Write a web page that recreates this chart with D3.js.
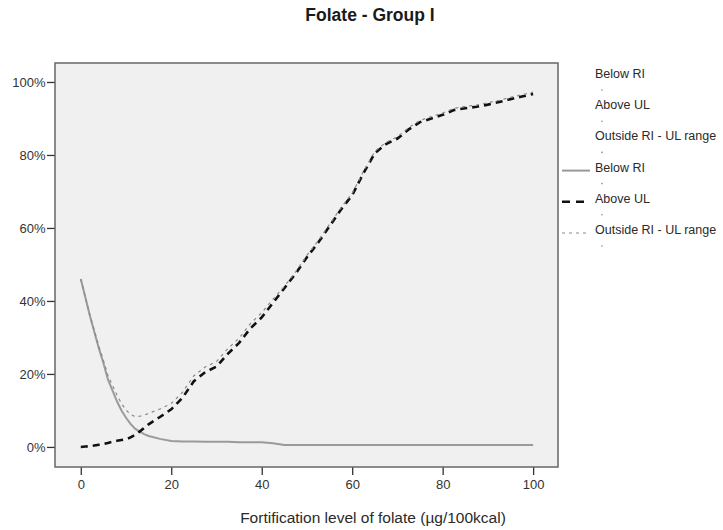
<!DOCTYPE html>
<html>
<head>
<meta charset="utf-8">
<script src="https://cdn.jsdelivr.net/npm/d3@7"></script>
<style>
  body { margin: 0; background: #fff; }
  svg { font-family: "Liberation Sans", Arial, sans-serif; }
</style>
</head>
<body>
<svg width="723" height="530"></svg>
<script>
// fortification level (µg/100kcal)
const levels = [0, 1, 2, 3, 4, 5, 6, 7, 8, 9, 10, 11, 12, 13, 14, 15, 17.5, 20, 22.5, 25,
  27.5, 30, 32.5, 35, 37.5, 40, 42.5, 45, 47.5, 50, 52.5, 55, 57.5, 60, 62.5, 65, 67.5,
  70, 72.5, 75, 77.5, 80, 82.5, 85, 87.5, 90, 92.5, 95, 97.5, 100];

// % below RI
const belowRI = [46, 41, 36, 31.5, 27, 23, 18.5, 15.5, 12.5, 10, 8, 6.3, 5, 4.2, 3.5, 3, 2.2, 1.6, 1.5, 1.5,
  1.4, 1.4, 1.4, 1.3, 1.3, 1.3, 1.0, 0.5, 0.5, 0.5, 0.5, 0.5, 0.5, 0.5, 0.5, 0.5, 0.5,
  0.5, 0.5, 0.5, 0.5, 0.5, 0.5, 0.5, 0.5, 0.5, 0.5, 0.5, 0.5, 0.5];

// % above UL
const aboveUL = [0, 0.1, 0.2, 0.4, 0.6, 0.8, 1.1, 1.4, 1.7, 1.9, 2.1, 2.6, 3.3, 4.2, 5.2, 6.2, 8.2, 10.3, 13.5, 18,
  20.5, 22, 25.5, 28.5, 32.5, 35.5, 39.5, 43.5, 47.5, 52, 56, 60.5, 65, 69, 75, 80.5, 83,
  84.5, 87, 89, 90, 91, 92.3, 92.8, 93.2, 93.8, 94.5, 95.3, 96, 96.7];

// % outside RI - UL range
const outside = [46, 41.1, 36.2, 31.9, 27.6, 23.8, 19.6, 16.9, 14.2, 11.9, 10.1, 8.9, 8.3, 8.4, 8.7, 9.2, 10.4, 11.9, 15, 19.5,
  21.9, 23.4, 26.9, 29.8, 33.8, 36.8, 40.5, 44, 48, 52.5, 56.5, 61, 65.5, 69.5, 75.5, 81, 83.5,
  85, 87.5, 89.5, 90.5, 91.5, 92.8, 93.3, 93.7, 94.3, 95, 95.8, 96.5, 97.2];

const xTicks = [0, 20, 40, 60, 80, 100];
const yTicks = [0, 20, 40, 60, 80, 100];
const legendNames = ["Below RI", "Above UL", "Outside RI - UL range"];

const svg = d3.select("svg");

const plotLeft = 55, plotRight = 558, plotTop = 63, plotBottom = 467;

const x = d3.scaleLinear().domain([-5.7, 105.5]).range([plotLeft, plotRight]);
const y = d3.scaleLinear().domain([-5.5, 105.2]).range([plotBottom, plotTop]);

svg.append("text")
  .attr("x", 370).attr("y", 21)
  .attr("text-anchor", "middle")
  .attr("font-size", "17.5px").attr("font-weight", "bold")
  .attr("fill", "#1a1a1a")
  .text("Folate - Group I");

svg.append("rect")
  .attr("x", plotLeft).attr("y", plotTop)
  .attr("width", plotRight - plotLeft).attr("height", plotBottom - plotTop)
  .attr("fill", "#f0f0f0");

const xAxis = svg.append("g")
  .attr("transform", "translate(0," + plotBottom + ")")
  .call(d3.axisBottom(x).tickValues(xTicks).tickSize(8).tickPadding(5));
const yAxis = svg.append("g")
  .attr("transform", "translate(" + plotLeft + ",0)")
  .call(d3.axisLeft(y).tickValues(yTicks).tickSize(8).tickPadding(1.5).tickFormat(d => d + "%"));

[xAxis, yAxis].forEach(a => {
  a.select(".domain").remove();
  a.selectAll(".tick line").attr("stroke", "#333").attr("stroke-width", 1.3);
  a.selectAll(".tick text")
    .attr("fill", "#333")
    .attr("font-size", "13px")
    .attr("font-family", "Liberation Sans, Arial, sans-serif");
});

svg.append("rect")
  .attr("x", plotLeft).attr("y", plotTop)
  .attr("width", plotRight - plotLeft).attr("height", plotBottom - plotTop)
  .attr("fill", "none")
  .attr("stroke", "#666").attr("stroke-width", 1.5);

svg.append("text")
  .attr("x", 373).attr("y", 523)
  .attr("text-anchor", "middle")
  .attr("font-size", "15.5px")
  .attr("fill", "#2a2a2a")
  .text("Fortification level of folate (µg/100kcal)");

const series = [
  { values: belowRI, stroke: "#9a9a9a", width: 2, dash: null },
  { values: aboveUL, stroke: "#111", width: 2.6, dash: "7,5" },
  { values: outside, stroke: "#8a8a8a", width: 1.2, dash: "3,4" }
];

const line = d3.line()
  .x((d, i) => x(levels[i]))
  .y(d => y(d));

series.forEach(s => {
  svg.append("path")
    .datum(s.values)
    .attr("fill", "none")
    .attr("stroke", s.stroke)
    .attr("stroke-width", s.width)
    .attr("stroke-dasharray", s.dash)
    .attr("d", line);
});

// legend: first block text only, second block with line swatches
const legend = svg.append("g").attr("font-size", "12.5px").attr("fill", "#2a2a2a");
const rows = legendNames.concat(legendNames);
rows.forEach((name, i) => {
  const ly = 78 + i * 31.2;
  legend.append("text").attr("x", 595).attr("y", ly).text(name);
  legend.append("circle").attr("cx", 602).attr("cy", ly + 12).attr("r", 0.8)
    .attr("fill", "#888");
  if (i >= 3) {
    const s = series[i - 3];
    legend.append("line")
      .attr("x1", 562).attr("x2", 590)
      .attr("y1", ly - 1).attr("y2", ly - 1)
      .attr("stroke", s.stroke)
      .attr("stroke-width", s.width)
      .attr("stroke-dasharray", i === 4 ? "8,6" : s.dash);
  }
});
</script>
</body>
</html>
